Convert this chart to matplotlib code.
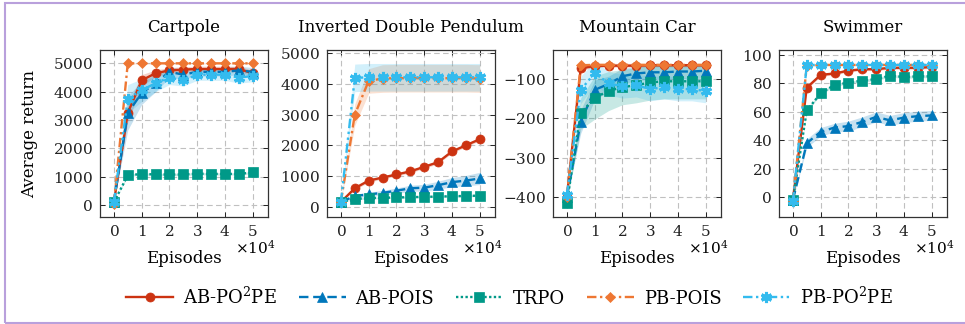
import matplotlib
matplotlib.use("Agg")
import matplotlib.pyplot as plt
from matplotlib.patches import Rectangle
import numpy as np

plt.rcParams['font.family'] = ['DejaVu Serif']
plt.rcParams['mathtext.fontset'] = 'dejavuserif'
plt.rcParams['axes.formatter.use_mathtext'] = True

# ---------------- data ----------------
episodes = [0, 0.5, 1, 1.5, 2, 2.5, 3, 3.5, 4, 4.5, 5]   # x 10^4
envs = ["Cartpole", "Inverted Double Pendulum", "Mountain Car", "Swimmer"]
methods = ["AB-PO$^2$PE", "AB-POIS", "TRPO", "PB-POIS", "PB-PO$^2$PE"]

# Cartpole
cp_abpo2pe = [100, 3250, 4400, 4650, 4750, 4780, 4800, 4800, 4800, 4800, 4650]
cp_abpois = [100, 3250, 3950, 4300, 4700, 4600, 4700, 4700, 4700, 4750, 4700]
cp_trpo = [100, 1050, 1100, 1080, 1080, 1080, 1110, 1100, 1100, 1100, 1150]
cp_pbpois = [50, 5000, 5000, 5000, 5000, 5000, 5000, 5000, 5000, 5000, 5000]
cp_pbpo2pe = [100, 3750, 4050, 4300, 4500, 4400, 4600, 4600, 4600, 4500, 4550]
cp_abpo2pe_sd = [0, 300, 200, 120, 100, 100, 100, 100, 100, 100, 100]
cp_abpois_sd = [0, 600, 400, 300, 200, 150, 150, 150, 150, 150, 150]
cp_trpo_sd = [0, 40, 40, 40, 40, 40, 40, 40, 40, 40, 40]
cp_pbpois_sd = [0, 20, 20, 20, 20, 20, 20, 20, 20, 20, 20]
cp_pbpo2pe_sd = [0, 500, 400, 300, 250, 200, 200, 200, 200, 200, 200]

# Inverted Double Pendulum
idp_abpo2pe = [150, 600, 850, 950, 1050, 1150, 1300, 1450, 1800, 2000, 2200]
idp_abpois = [150, 350, 400, 450, 520, 600, 620, 700, 800, 850, 920]
idp_trpo = [150, 250, 280, 290, 300, 310, 320, 330, 340, 350, 360]
idp_pbpois = [150, 3000, 4100, 4180, 4190, 4190, 4190, 4190, 4190, 4190, 4180]
idp_pbpo2pe = [150, 4200, 4220, 4220, 4220, 4220, 4220, 4220, 4220, 4220, 4220]
idp_abpo2pe_sd = [0, 50, 50, 50, 50, 50, 50, 50, 50, 50, 50]
idp_abpois_sd = [0, 60, 70, 80, 90, 100, 110, 130, 150, 170, 200]
idp_trpo_sd = [0, 30, 30, 30, 30, 30, 30, 30, 30, 30, 30]
idp_pbpois_sd = [0, 350, 400, 450, 450, 450, 450, 450, 450, 450, 450]
idp_pbpo2pe_sd = [0, 450, 450, 450, 450, 450, 450, 450, 450, 450, 450]

# Mountain Car
mc_abpo2pe = [-400, -72, -66, -65, -65, -65, -64, -64, -64, -64, -64]
mc_abpois = [-400, -208, -127, -112, -92, -85, -82, -82, -80, -80, -78]
mc_trpo = [-415, -187, -147, -130, -120, -115, -108, -105, -105, -105, -105]
mc_pbpois = [-400, -64, -63, -63, -63, -63, -63, -63, -63, -63, -63]
mc_pbpo2pe = [-395, -127, -84, -110, -118, -115, -125, -120, -125, -125, -130]
mc_abpo2pe_sd = [0, 5, 4, 4, 4, 4, 4, 4, 4, 4, 4]
mc_abpois_sd = [0, 30, 25, 20, 20, 18, 18, 18, 18, 18, 18]
mc_trpo_sd = [0, 40, 55, 50, 45, 45, 45, 45, 45, 45, 45]
mc_pbpois_sd = [0, 4, 4, 4, 4, 4, 4, 4, 4, 4, 4]
mc_pbpo2pe_sd = [0, 35, 30, 30, 30, 30, 30, 30, 30, 30, 30]

# Swimmer
sw_abpo2pe = [-2, 77, 86, 87, 89, 90, 90, 91, 91, 91, 91.5]
sw_abpois = [-2, 38, 46, 49, 50, 53, 56.5, 54, 56, 57, 57.5]
sw_trpo = [-2, 61, 73, 79, 80.5, 82, 83, 85.5, 84.5, 85, 85]
sw_pbpois = [-3, 92.5, 93, 93, 93, 93, 93, 93, 93, 93, 93]
sw_pbpo2pe = [-3, 93, 93, 93, 93, 93, 93, 93, 93, 93, 93]
sw_abpo2pe_sd = [0, 1, 1, 1, 1, 1, 1, 1, 1, 1, 1]
sw_abpois_sd = [0, 3, 3, 3, 3.5, 3.5, 3.5, 3.5, 3.5, 3.5, 3.5]
sw_trpo_sd = [0, 1, 1, 1, 1, 1, 1, 1, 1, 1, 1]
sw_pbpois_sd = [0, 0.5, 0.5, 0.5, 0.5, 0.5, 0.5, 0.5, 0.5, 0.5, 0.5]
sw_pbpo2pe_sd = [0, 0.5, 0.5, 0.5, 0.5, 0.5, 0.5, 0.5, 0.5, 0.5, 0.5]

yticks = [
    [0, 1000, 2000, 3000, 4000, 5000],
    [0, 1000, 2000, 3000, 4000, 5000],
    [-400, -300, -200, -100],
    [0, 20, 40, 60, 80, 100],
]
xticks = [0, 1, 2, 3, 4, 5]

# ---------------- style ----------------
colors = ["#CC3311", "#0077BB", "#009988", "#EE7733", "#33BBEE"]
markers = ["o", "^", "s", "D", (6, 2, 0)]
msizes = [6.5, 7, 6.5, 5.5, 8]
mews = [0.5, 0.5, 0.5, 0.5, 2.2]
lstyles = ["-", (0, (4, 2)), (0, (1, 1)), (0, (4, 1.5, 1, 1.5)), (0, (4, 1.5, 1, 1.5, 1, 1.5))]

all_means = [
    [cp_abpo2pe, cp_abpois, cp_trpo, cp_pbpois, cp_pbpo2pe],
    [idp_abpo2pe, idp_abpois, idp_trpo, idp_pbpois, idp_pbpo2pe],
    [mc_abpo2pe, mc_abpois, mc_trpo, mc_pbpois, mc_pbpo2pe],
    [sw_abpo2pe, sw_abpois, sw_trpo, sw_pbpois, sw_pbpo2pe],
]
all_sds = [
    [cp_abpo2pe_sd, cp_abpois_sd, cp_trpo_sd, cp_pbpois_sd, cp_pbpo2pe_sd],
    [idp_abpo2pe_sd, idp_abpois_sd, idp_trpo_sd, idp_pbpois_sd, idp_pbpo2pe_sd],
    [mc_abpo2pe_sd, mc_abpois_sd, mc_trpo_sd, mc_pbpois_sd, mc_pbpo2pe_sd],
    [sw_abpo2pe_sd, sw_abpois_sd, sw_trpo_sd, sw_pbpois_sd, sw_pbpo2pe_sd],
]
ylims = [(-420, 5470), (-337, 5110), (-452, -25), (-13.9, 103.5)]

W, H = 965, 324
fig = plt.figure(figsize=(W / 100, H / 100), dpi=100)
lefts = [100, 327, 553, 779]
aw, ax_top, ax_bot = 168, 50, 217

handles = []
for i, env in enumerate(envs):
    ax = fig.add_axes([lefts[i] / W, 1 - ax_bot / H, aw / W, (ax_bot - ax_top) / H])
    x = np.array(episodes)
    for j in range(5):
        m = np.array(all_means[i][j], dtype=float)
        s = np.array(all_sds[i][j], dtype=float)
        ax.fill_between(x, m - s, m + s, color=colors[j], alpha=0.22, lw=0, zorder=1)
    for j in range(5):
        m = np.array(all_means[i][j], dtype=float)
        h, = ax.plot(x, m, color=colors[j], ls=lstyles[j], lw=1.7, marker=markers[j],
                     ms=msizes[j], mec=colors[j], mew=mews[j], mfc=colors[j],
                     label=methods[j], zorder=3 + j)
        if i == 0:
            handles.append(h)
    ax.set_xlim(-0.5, 5.55)
    ax.set_ylim(*ylims[i])
    ax.set_xticks(xticks)
    ax.set_yticks(yticks[i])
    ax.grid(True, color="#c0c0c0", ls=(0, (5, 3)), lw=0.8, zorder=0)
    ax.set_axisbelow(True)
    ax.tick_params(direction="in", top=True, right=True, length=3.5, width=0.7,
                   labelsize=11, colors="#222222", pad=5)
    for sp in ax.spines.values():
        sp.set_color("#333333")
        sp.set_linewidth(0.9)
    ax.set_title(env, fontsize=12, pad=13)
    ax.set_xlabel("Episodes", fontsize=12, labelpad=8)
    ax.text(1.045, -0.13, r"$\times10^4$", transform=ax.transAxes, ha="right",
            va="top", fontsize=11)
    if i == 0:
        ax.set_ylabel("Average return", fontsize=12, labelpad=11)

fig.legend(handles=handles, loc="center", bbox_to_anchor=(0.528, 0.083), ncol=5,
           frameon=False, fontsize=13, handlelength=2.6, columnspacing=1.2,
           handletextpad=0.55)

# purple frame
fig.add_artist(Rectangle((4.5 / W, 1.5 / H), (W + 10) / W, (H - 4) / H,
                         transform=fig.transFigure, fill=False,
                         edgecolor="#b9a0dc", lw=1.5))

fig.savefig("out.png", dpi=100)
